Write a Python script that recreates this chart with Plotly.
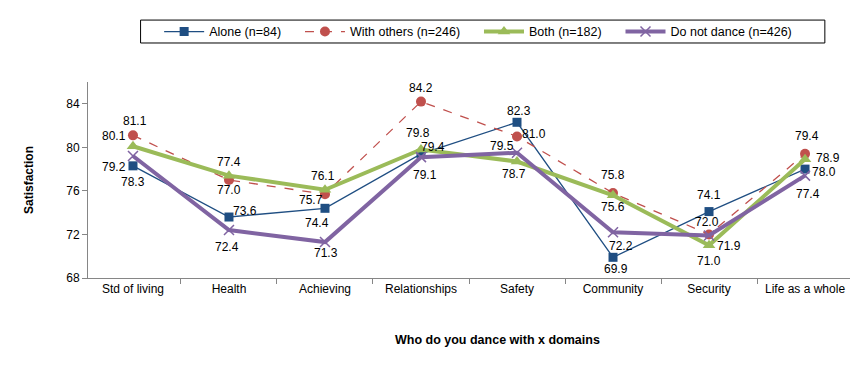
import plotly.graph_objects as go

categories = ["Std of living", "Health", "Achieving", "Relationships", "Safety",
              "Community", "Security", "Life as a whole"]
alone = [78.3, 73.6, 74.4, 79.4, 82.3, 69.9, 74.1, 78.0]
with_others = [81.1, 77.0, 75.7, 84.2, 81.0, 75.8, 72.0, 79.4]
both = [80.1, 77.4, 76.1, 79.8, 78.7, 75.6, 71.0, 78.9]
do_not_dance = [79.2, 72.4, 71.3, 79.1, 79.5, 72.2, 71.9, 77.4]
y_ticks = [68, 72, 76, 80, 84]

# label offsets in pixels (dx right, dy down) relative to each point
off_alone = [(0, 16), (16, -6), (-8, 15), (12, -7), (2, -11), (3, 12), (0, -17), (19, 3)]
off_others = [(2, -14), (0, 10), (-14, 6), (0, -14), (17, -2), (0, -18), (-2, -12), (2, -18)]
off_both = [(-19, -10), (0, -14), (-2, -14), (-3, -17), (-3, 13), (0, 12), (0, 16), (23, -1)]
off_dnd = [(-19, 11), (-2, 17), (1, 11), (4, 18), (-15, -7), (8, 14), (20, 10), (3, 18)]

FONT = "Liberation Sans, Arial, sans-serif"
PAD = "\u00a0" * 4
fig = go.Figure()
annotations = []

def add(name, vals, color, width, dash, symbol, msize, offs):
    fig.add_trace(go.Scatter(
        x=categories, y=vals, name=name, mode="lines+markers",
        line=dict(color=color, width=width, dash=dash),
        marker=dict(symbol=symbol, size=msize, color=color,
                    line=dict(color=color, width=1.5 if "x" in symbol else 0)),
        cliponaxis=False,
    ))
    for c, v, (dx, dy) in zip(categories, vals, offs):
        annotations.append(dict(
            x=c, y=v, xref="x", yref="y", text=f"{v:.1f}", showarrow=False,
            xanchor="center", yanchor="middle", xshift=dx, yshift=-dy,
            font=dict(family=FONT, size=12, color="#000000")))

add("Alone (n=84)" + PAD, alone, "#1F4E82", 1.3, "solid", "square", 9, off_alone)
add("With others (n=246)" + PAD, with_others, "#C0504D", 1.3, "dash", "circle", 10, off_others)
add("Both (n=182)" + PAD, both, "#9BBB59", 4, "solid", "triangle-up", 11, off_both)
add("Do not dance (n=426)", do_not_dance, "#8064A2", 4, "solid", "x-thin", 10, off_dnd)

annotations.append(dict(text="<b>Who do you dance with x domains</b>", x=0.537, y=-0.316,
                        xref="paper", yref="paper", xanchor="center", yanchor="middle",
                        showarrow=False, font=dict(size=12.5)))

# page body has an 8px margin, so the figure is sized to fill the rest of the window
fig.update_layout(
    width=850, height=363,
    margin=dict(l=80, r=8, t=74, b=93, autoexpand=False),
    paper_bgcolor="white", plot_bgcolor="white",
    font=dict(family=FONT, size=12, color="#000000"),
    showlegend=True,
    legend=dict(orientation="h", x=0.512, xanchor="center", y=1.332, yanchor="top",
                borderwidth=0, bgcolor="rgba(0,0,0,0)",
                font=dict(family=FONT, size=12.5, color="#000000"),
                itemwidth=40, traceorder="normal"),
    shapes=[dict(type="rect", xref="paper", yref="paper", x0=0.069, x1=0.967,
                 y0=1.199, y1=1.316, line=dict(color="#000000", width=1),
                 fillcolor="rgba(0,0,0,0)")],
    xaxis=dict(showline=True, linecolor="#868686", linewidth=1, ticks="outside",
               tickson="boundaries", ticklen=5, tickcolor="#868686",
               showgrid=False, tickfont=dict(size=12)),
    yaxis=dict(range=[68, 86], tickvals=y_ticks, showline=True, linecolor="#868686",
               linewidth=1, ticks="outside", ticklen=5, tickcolor="#868686",
               showgrid=False, zeroline=False, tickfont=dict(size=12),
               title=dict(text="<b>Satisfaction</b>", font=dict(size=12), standoff=30)),
    annotations=annotations,
)

fig.write_html("out.html")
